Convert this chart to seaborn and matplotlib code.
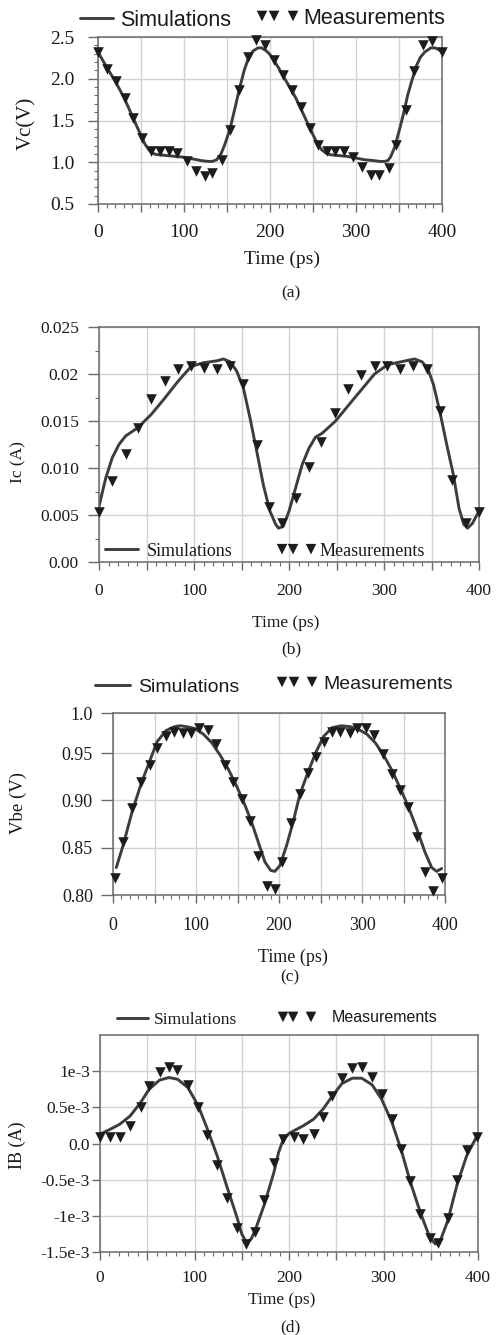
import numpy as np
import matplotlib
matplotlib.use("Agg")
import matplotlib.pyplot as plt
import seaborn as sns
from matplotlib.lines import Line2D
from matplotlib.legend_handler import HandlerPathCollection
from matplotlib.ticker import MultipleLocator, FixedLocator, FixedFormatter

# ---------------- data ----------------
X_TICKS = [0, 50, 100, 150, 200, 250, 300, 350, 400]
X_TICKLABELS = ['0', '', '100', '', '200', '', '300', '', '400']

# (a) Vc
MEAS_A_X = [0, 11, 21, 31, 41, 51, 62, 72, 83, 92, 103, 114, 124, 133, 144, 154, 164, 174, 184, 194,
            205, 215, 225, 236, 246, 256, 266, 276, 286, 297, 307, 317, 327, 338, 347, 358, 368, 378, 388, 400]
MEAS_A_Y = [2.32, 2.12, 1.97, 1.77, 1.53, 1.29, 1.14, 1.13, 1.13, 1.11, 1.01, 0.89, 0.83, 0.87, 1.03, 1.39,
            1.86, 2.26, 2.46, 2.41, 2.22, 2.05, 1.87, 1.66, 1.41, 1.21, 1.13, 1.13, 1.13, 1.06, 0.94, 0.85,
            0.85, 0.93, 1.21, 1.63, 2.09, 2.40, 2.45, 2.32]
SIM_A_X = [0, 10, 20, 30, 40, 50, 55, 60, 65, 70, 80, 90, 100, 110, 120, 128, 133, 138, 143, 147, 150, 154,
           160, 164, 170, 174, 180, 186, 190, 195, 200, 210, 220, 230, 240, 250, 255, 260, 265, 270, 280,
           290, 300, 310, 320, 328, 333, 337, 340, 345, 350, 355, 360, 365, 370, 375, 380, 387, 392, 396, 400]
SIM_A_Y = [2.32, 2.14, 1.97, 1.78, 1.55, 1.32, 1.21, 1.14, 1.10, 1.09, 1.08, 1.07, 1.06, 1.04, 1.02, 1.01,
           1.01, 1.03, 1.10, 1.20, 1.29, 1.42, 1.68, 1.86, 2.10, 2.22, 2.33, 2.37, 2.37, 2.34, 2.29, 2.13,
           1.95, 1.77, 1.55, 1.33, 1.22, 1.15, 1.11, 1.09, 1.08, 1.07, 1.05, 1.03, 1.02, 1.01, 1.01, 1.02,
           1.06, 1.18, 1.37, 1.57, 1.80, 1.98, 2.15, 2.26, 2.32, 2.37, 2.37, 2.35, 2.32]
A_YTICKS = [0.5, 1.0, 1.5, 2.0, 2.5]
A_YTICKLABELS = ['0.5', '1.0', '1.5', '2.0', '2.5']

# (b) Ic
MEAS_B_X = [0, 14, 28, 41, 55, 69, 83, 97, 110, 124, 138, 152, 166, 179, 193, 207, 221, 234, 248, 262,
            276, 290, 303, 317, 331, 345, 359, 372, 386, 400]
MEAS_B_Y = [0.0053, 0.0086, 0.0115, 0.0143, 0.0173, 0.0193, 0.0205, 0.0209, 0.0206, 0.0205, 0.0209,
            0.0189, 0.0124, 0.0058, 0.0042, 0.0068, 0.0101, 0.0128, 0.0159, 0.0184, 0.0199, 0.0208,
            0.0208, 0.0205, 0.0208, 0.0205, 0.0161, 0.0087, 0.0042, 0.0053]
SIM_B_X = [0, 7, 14, 21, 28, 41, 55, 69, 83, 97, 110, 124, 131, 138, 145, 152, 159, 166, 173, 180, 186,
           189, 194, 200, 207, 214, 221, 228, 235, 249, 262, 276, 290, 304, 318, 332, 340, 346, 352, 359,
           366, 373, 379, 384, 388, 393, 400]
SIM_B_Y = [0.0059, 0.0089, 0.0111, 0.0125, 0.0134, 0.0143, 0.0157, 0.0174, 0.0192, 0.0208, 0.0212,
           0.0214, 0.0216, 0.0213, 0.0203, 0.0185, 0.0153, 0.0118, 0.0082, 0.0054, 0.0040, 0.0036,
           0.0038, 0.0054, 0.0079, 0.0104, 0.0121, 0.0133, 0.0137, 0.0150, 0.0166, 0.0183, 0.0200,
           0.0210, 0.0213, 0.0216, 0.0213, 0.0206, 0.0189, 0.0159, 0.0125, 0.0093, 0.0057, 0.0040,
           0.0036, 0.0041, 0.0054]
B_YTICKS = [0.0, 0.005, 0.010, 0.015, 0.020, 0.025]
B_YTICKLABELS = ['0.00', '0.005', '0.010', '0.015', '0.02', '0.025']

# (c) Vbe
MEAS_C_X = [2, 12, 23, 34, 44, 53, 64, 74, 84, 94, 104, 114, 124, 135, 145, 155, 165, 175, 185, 195,
            204, 215, 225, 235, 245, 254, 264, 274, 285, 294, 305, 315, 325, 336, 346, 356, 366, 376, 386, 396]
MEAS_C_Y = [0.818, 0.856, 0.892, 0.919, 0.938, 0.955, 0.968, 0.972, 0.971, 0.971, 0.977, 0.975, 0.960,
            0.938, 0.919, 0.902, 0.878, 0.841, 0.810, 0.806, 0.835, 0.876, 0.907, 0.929, 0.946, 0.962,
            0.972, 0.972, 0.971, 0.977, 0.977, 0.969, 0.949, 0.928, 0.911, 0.893, 0.861, 0.824, 0.804, 0.818]
SIM_C_X = [4, 12, 23, 34, 44, 53, 64, 74, 81, 89, 99, 109, 119, 129, 139, 149, 159, 167, 175, 183, 190,
           195, 201, 209, 217, 225, 235, 245, 254, 264, 275, 286, 296, 306, 316, 326, 336, 346, 356, 366,
           376, 384, 390, 396]
SIM_C_Y = [0.829, 0.852, 0.888, 0.918, 0.941, 0.962, 0.974, 0.978, 0.979, 0.978, 0.976, 0.970, 0.961,
           0.948, 0.933, 0.915, 0.895, 0.877, 0.856, 0.835, 0.826, 0.825, 0.831, 0.852, 0.877, 0.906,
           0.930, 0.952, 0.968, 0.977, 0.979, 0.978, 0.975, 0.970, 0.961, 0.948, 0.932, 0.913, 0.893,
           0.870, 0.845, 0.829, 0.825, 0.828]
C_YTICKS = [0.80, 0.85, 0.90, 0.95, 0.9925]
C_YTICKLABELS = ['0.80', '0.85', '0.90', '0.95', '1.0']

# (d) IB
MEAS_D_X = [0, 11, 21, 32, 43, 52, 63, 73, 82, 93, 104, 113, 124, 134, 145, 154, 164, 174, 184, 194,
            205, 215, 226, 236, 246, 256, 267, 277, 288, 298, 309, 319, 328, 339, 349, 358, 368, 378, 388, 399]
MEAS_D_Y = [0.092e-3, 0.092e-3, 0.092e-3, 0.244e-3, 0.498e-3, 0.797e-3, 0.995e-3, 1.06e-3, 1.014e-3,
            0.811e-3, 0.507e-3, 0.12e-3, -0.295e-3, -0.756e-3, -1.17e-3, -1.392e-3, -1.217e-3, -0.783e-3,
            -0.276e-3, 0.06e-3, 0.092e-3, 0.06e-3, 0.138e-3, 0.369e-3, 0.659e-3, 0.903e-3, 1.041e-3,
            1.06e-3, 0.922e-3, 0.682e-3, 0.336e-3, -0.078e-3, -0.525e-3, -0.977e-3, -1.30e-3, -1.369e-3,
            -1.032e-3, -0.507e-3, -0.092e-3, 0.092e-3]
SIM_D_X = [0, 11, 21, 32, 43, 52, 63, 73, 82, 93, 104, 113, 124, 134, 145, 150, 155, 160, 164, 174, 184,
           189, 194, 200, 205, 215, 226, 236, 246, 256, 267, 277, 288, 298, 309, 319, 328, 339, 349, 355,
           360, 368, 378, 388, 399]
SIM_D_Y = [0.129e-3, 0.198e-3, 0.267e-3, 0.382e-3, 0.567e-3, 0.751e-3, 0.876e-3, 0.912e-3, 0.889e-3,
           0.774e-3, 0.521e-3, 0.221e-3, -0.17e-3, -0.585e-3, -1.023e-3, -1.25e-3, -1.37e-3, -1.32e-3,
           -1.207e-3, -0.839e-3, -0.40e-3, -0.124e-3, 0.06e-3, 0.138e-3, 0.175e-3, 0.244e-3, 0.336e-3,
           0.475e-3, 0.659e-3, 0.829e-3, 0.903e-3, 0.903e-3, 0.811e-3, 0.613e-3, 0.29e-3, -0.10e-3,
           -0.516e-3, -0.954e-3, -1.30e-3, -1.39e-3, -1.346e-3, -1.069e-3, -0.562e-3, -0.17e-3, 0.106e-3]
D_YTICKS = [-1.5e-3, -1e-3, -0.5e-3, 0.0, 0.5e-3, 1e-3]
D_YTICKLABELS = ['-1.5e-3', '-1e-3', '-0.5e-3', '0.0', '0.5e-3', '1e-3']

LEG_SIM = 'Simulations'
LEG_MEAS = 'Measurements'

# ---------------- style ----------------
W, H = 497, 1335
sns.set_theme(style="white")
SERIF = ['Liberation Serif', 'DejaVu Serif']
SANS = ['Liberation Sans', 'DejaVu Sans']
plt.rcParams['font.family'] = SERIF
LINE_C = '#3d3d3d'
MARK_C = '#1c1c1c'
GRID_C = '#d2d2d2'
SPINE_C = '#6a6a6a'
TXT_C = '#1a1a1a'

fig = plt.figure(figsize=(W / 100, H / 100), dpi=100)


def pt(px):
    return px * 0.72


class ThreeMarkers(HandlerPathCollection):
    def __init__(self, fracs, **kw):
        super().__init__(marker_pad=0, **kw)
        self.fracs = np.asarray(fracs)

    def get_xdata(self, legend, xdescent, ydescent, width, height, fontsize):
        xd = -xdescent + self.fracs * width
        return xd, xd


def add_leg(handle, label, left_px, cy_px, family, size, hlen_px, gap_px, handler=None):
    fs_px = size / 0.72
    kw = {}
    if handler is not None:
        kw['handler_map'] = {handle: handler}
    leg = fig.legend([handle], [label], loc='center left',
                     bbox_to_anchor=(left_px / W, 1 - cy_px / H), bbox_transform=fig.transFigure,
                     frameon=False, borderpad=0, borderaxespad=0,
                     handlelength=hlen_px / fs_px, handletextpad=gap_px / fs_px,
                     prop={'family': family, 'size': size}, scatterpoints=3, scatteryoffsets=[0.5],
                     labelcolor=TXT_C, **kw)
    return leg


def panel(box, sim_x, sim_y, meas_x, meas_y, ylim, yticks, yticklabels, yminor,
          tick_fs, xpad, ypad, ytick_len, ylabel, ylab_fs, ylab_c, xlab_fs, xlab_c):
    l, t, r, b = box
    ax = fig.add_axes([l / W, 1 - b / H, (r - l) / W, (b - t) / H])
    ax.set_facecolor('white')
    sns.lineplot(x=sim_x, y=sim_y, ax=ax, color=LINE_C, linewidth=2.1, zorder=2)
    sns.scatterplot(x=meas_x, y=meas_y, ax=ax, marker='v', s=58, color=MARK_C,
                    linewidth=0, zorder=3, clip_on=False)
    ax.set_xlim(0, 400)
    ax.set_ylim(*ylim)
    ax.xaxis.set_major_locator(FixedLocator(X_TICKS))
    ax.xaxis.set_major_formatter(FixedFormatter(X_TICKLABELS))
    ax.xaxis.set_minor_locator(MultipleLocator(10))
    ax.yaxis.set_major_locator(FixedLocator(yticks))
    ax.yaxis.set_major_formatter(FixedFormatter(yticklabels))
    if yminor:
        ax.yaxis.set_minor_locator(MultipleLocator(yminor))
    ax.grid(True, which='major', color=GRID_C, linewidth=1.0)
    ax.set_axisbelow(True)
    for s in ax.spines.values():
        s.set_visible(True)
        s.set_color(SPINE_C)
        s.set_linewidth(1.1)
    ax.tick_params(axis='x', which='major', bottom=True, direction='out', length=pt(8), width=1.0,
                   color=SPINE_C, pad=xpad, labelsize=tick_fs, labelcolor=TXT_C)
    ax.tick_params(axis='x', which='minor', bottom=True, direction='out', length=pt(4), width=0.8,
                   color=SPINE_C)
    ax.tick_params(axis='y', which='major', left=True, direction='out', length=pt(ytick_len), width=1.0,
                   color=SPINE_C, pad=ypad, labelsize=tick_fs, labelcolor=TXT_C)
    ax.tick_params(axis='y', which='minor', left=True, direction='out', length=pt(4), width=0.8,
                   color=SPINE_C)
    # labels
    ax.set_xlabel('Time (ps)', fontsize=xlab_fs, color=TXT_C)
    ax.set_ylabel(ylabel, fontsize=ylab_fs, color=TXT_C)
    xfs = xlab_fs / 0.72
    yfs = ylab_fs / 0.72
    top_px = xlab_c[1] - 0.46 * xfs
    ax.xaxis.set_label_coords((xlab_c[0] - l) / (r - l), (b - top_px) / (b - t))
    right_px = ylab_c[0] + 0.46 * yfs
    ax.yaxis.set_label_coords((right_px - l) / (r - l), (b - ylab_c[1]) / (b - t))
    return ax


line_handle = Line2D([], [], color=LINE_C, linewidth=2.1)

# (a)
ax_a = panel((98, 37, 442, 204), SIM_A_X, SIM_A_Y, MEAS_A_X, MEAS_A_Y, (0.5, 2.5), A_YTICKS,
             A_YTICKLABELS, 0.1, 14, 8.6, 10, 10, 'Vc(V)', 15, (27, 123), 14, (282, 260))
mh = ax_a.collections[-1]
add_leg(line_handle, LEG_SIM, 80, 20, SANS, 15.5, 33, 7)
add_leg(mh, LEG_MEAS, 262, 18, SANS, 15.5, 31, 10, ThreeMarkers([0, 0.39, 1.0]))
fig.text(291 / W, 1 - 293 / H, '(a)', ha='center', va='center', fontsize=12.5, color=TXT_C)

# (b)
ax_b = panel((99, 327, 479, 562), SIM_B_X, SIM_B_Y, MEAS_B_X, MEAS_B_Y, (0.0, 0.025), B_YTICKS,
             B_YTICKLABELS, 0.0025, 12.5, 9.4, 6.5, 11, 'Ic (A)', 12.5, (18, 462), 12.5, (286, 623))
mh = ax_b.collections[-1]
add_leg(line_handle, LEG_SIM, 105, 551, SERIF, 13, 33, 9)
add_leg(mh, LEG_MEAS, 282, 551, SERIF, 13, 29, 9, ThreeMarkers([0, 0.38, 1.0]))
fig.text(291 / W, 1 - 649 / H, '(b)', ha='center', va='center', fontsize=12.5, color=TXT_C)

# (c)
ax_c = panel((113, 713, 445, 895), SIM_C_X, SIM_C_Y, MEAS_C_X, MEAS_C_Y, (0.80, 0.9925), C_YTICKS,
             C_YTICKLABELS, None, 13, 9.9, 5.8, 12, 'Vbe (V)', 13.5, (18, 803), 13, (293, 957))
mh = ax_c.collections[-1]
add_leg(line_handle, LEG_SIM, 95, 687, SANS, 14, 35, 8)
add_leg(mh, LEG_MEAS, 282, 684, SANS, 14, 30, 11, ThreeMarkers([0, 0.4, 1.0]))
fig.text(290 / W, 1 - 977 / H, '(c)', ha='center', va='center', fontsize=12.5, color=TXT_C)

# (d)
ax_d = panel((100, 1035, 478, 1252), SIM_D_X, SIM_D_Y, MEAS_D_X, MEAS_D_Y, (-1.5e-3, 1.5e-3), D_YTICKS,
             D_YTICKLABELS, None, 12.5, 7.2, 1.5, 8, 'IB (A)', 13, (18, 1145), 12.5, (282, 1300))
mh = ax_d.collections[-1]
add_leg(line_handle, LEG_SIM, 117, 1020, SERIF, 12.5, 31, 6)
add_leg(mh, LEG_MEAS, 283, 1018, SANS, 11.5, 28, 21, ThreeMarkers([0, 0.36, 1.0]))
fig.text(290 / W, 1 - 1327 / H, '(d)', ha='center', va='center', fontsize=12.5, color=TXT_C)

fig.savefig('out.png', dpi=100)
